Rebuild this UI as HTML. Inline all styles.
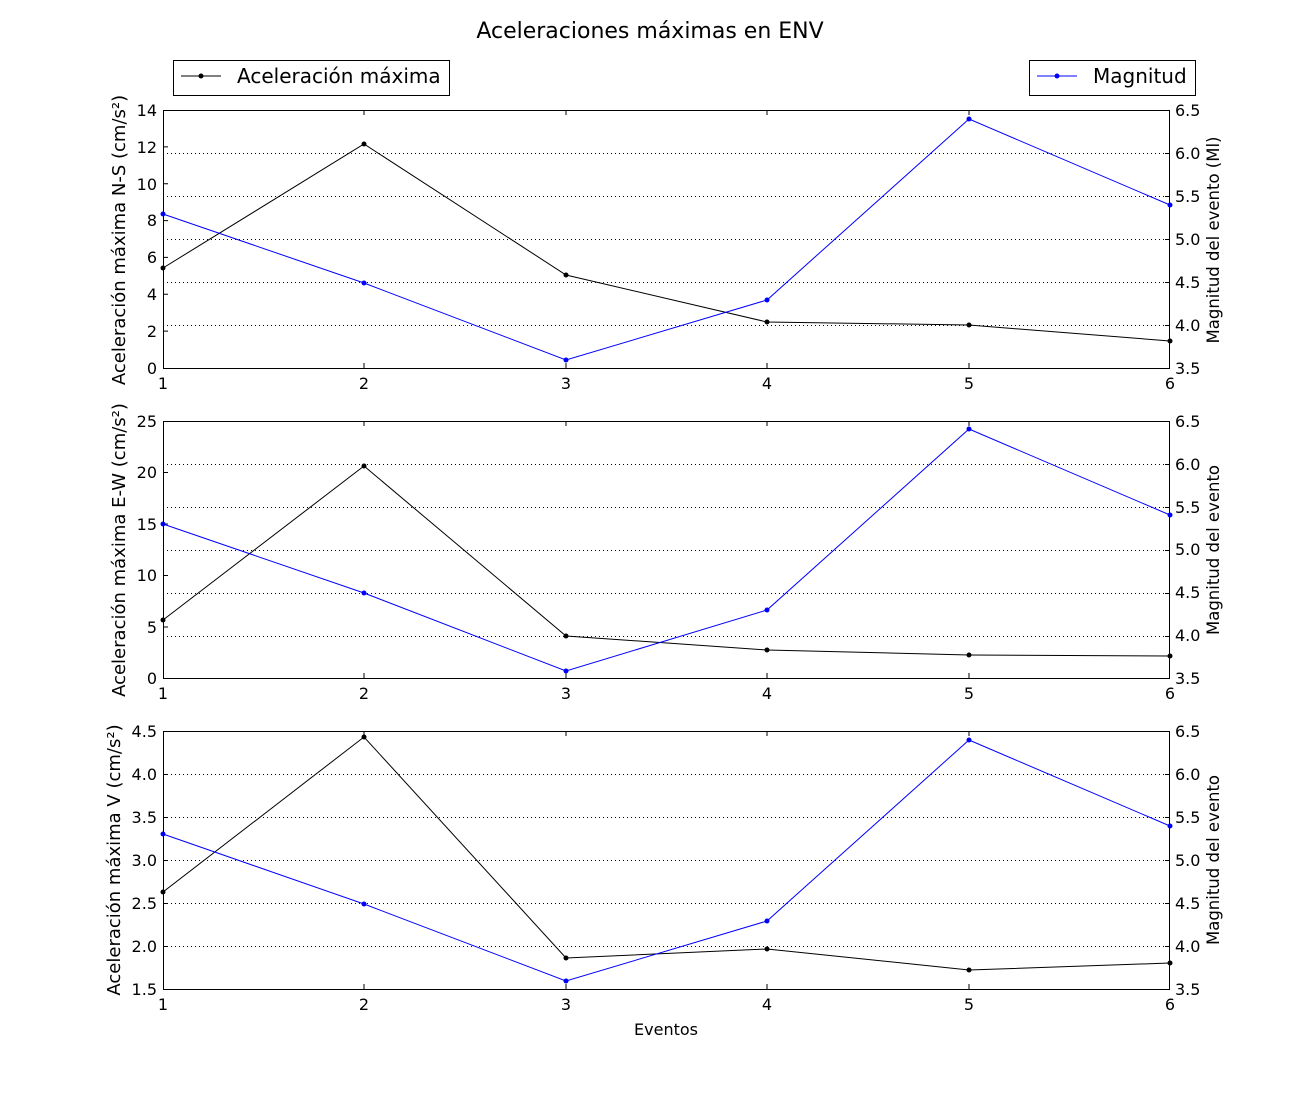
<!DOCTYPE html>
<html><head><meta charset="utf-8"><style>
body{margin:0;background:#fff}
svg{font-family:"DejaVu Sans","Liberation Sans",sans-serif;}
</style></head><body>
<svg width="1300" height="1100" xmlns="http://www.w3.org/2000/svg">
<rect width="1300" height="1100" fill="#fff"/>
<text x="650" y="38" font-size="22" text-anchor="middle">Aceleraciones máximas en ENV</text>
<rect x="173.5" y="60.5" width="276" height="35" fill="#fff" stroke="#000"/>
<line x1="181" y1="76" x2="221" y2="76" stroke="#000"/><circle cx="201" cy="76" r="2.5"/>
<text x="237" y="83" font-size="20">Aceleración máxima</text>
<rect x="1029.5" y="60.5" width="166" height="35" fill="#fff" stroke="#000"/>
<line x1="1037" y1="76" x2="1077" y2="76" stroke="#00f"/><circle cx="1057" cy="76" r="2.5" fill="#00f"/>
<text x="1093" y="83" font-size="20">Magnitud</text>

<!-- Panel 1 -->
<g stroke="#000" stroke-dasharray="1,3">
<line x1="163" x2="1170" y1="325.5" y2="325.5"/><line x1="163" x2="1170" y1="282.5" y2="282.5"/><line x1="163" x2="1170" y1="239.5" y2="239.5"/><line x1="163" x2="1170" y1="196.5" y2="196.5"/><line x1="163" x2="1170" y1="153.5" y2="153.5"/>
</g>
<g stroke="#000">
<path d="M163 331.1h5M163 294.3h5M163 257.4h5M163 220.6h5M163 183.7h5M163 146.9h5M1170 325.5h-5M1170 282.5h-5M1170 239.5h-5M1170 196.5h-5M1170 153.5h-5M364 368v-5M566 368v-5M767 368v-5M969 368v-5M364 110v5M566 110v5M767 110v5M969 110v5"/>
</g>
<polyline fill="none" stroke="#000" points="163,268 364,144 566,275 767,322 969,325 1170,341"/>
<g fill="#000"><circle cx="163" cy="268" r="2.5"/><circle cx="364" cy="144" r="2.5"/><circle cx="566" cy="275" r="2.5"/><circle cx="767" cy="322" r="2.5"/><circle cx="969" cy="325" r="2.5"/><circle cx="1170" cy="341" r="2.5"/></g>
<polyline fill="none" stroke="#00f" points="163,214 364,283 566,360 767,300 969,119 1170,205"/>
<g fill="#00f"><circle cx="163" cy="214" r="2.5"/><circle cx="364" cy="283" r="2.5"/><circle cx="566" cy="360" r="2.5"/><circle cx="767" cy="300" r="2.5"/><circle cx="969" cy="119" r="2.5"/><circle cx="1170" cy="205" r="2.5"/></g>
<rect x="163.5" y="110.5" width="1006" height="258" fill="none" stroke="#000"/>
<g font-size="16" text-anchor="end">
<text x="157" y="374">0</text><text x="157" y="337">2</text><text x="157" y="300">4</text><text x="157" y="263">6</text><text x="157" y="226">8</text><text x="157" y="190">10</text><text x="157" y="153">12</text><text x="157" y="116">14</text>
</g>
<g font-size="16">
<text x="1175" y="374">3.5</text><text x="1175" y="331">4.0</text><text x="1175" y="288">4.5</text><text x="1175" y="245">5.0</text><text x="1175" y="202">5.5</text><text x="1175" y="159">6.0</text><text x="1175" y="116">6.5</text>
</g>
<g font-size="16" text-anchor="middle">
<text x="163" y="389">1</text><text x="364" y="389">2</text><text x="566" y="389">3</text><text x="767" y="389">4</text><text x="969" y="389">5</text><text x="1170" y="389">6</text>
</g>
<text transform="translate(125,240) rotate(-90)" font-size="18" text-anchor="middle">Aceleración máxima N-S (cm/s²)</text>
<text transform="translate(1219,240) rotate(-90)" font-size="16.5" text-anchor="middle">Magnitud del evento (Ml)</text>

<!-- Panel 2 -->
<g stroke="#000" stroke-dasharray="1,3">
<line x1="163" x2="1170" y1="636.5" y2="636.5"/><line x1="163" x2="1170" y1="593.5" y2="593.5"/><line x1="163" x2="1170" y1="550.5" y2="550.5"/><line x1="163" x2="1170" y1="507.5" y2="507.5"/><line x1="163" x2="1170" y1="464.5" y2="464.5"/>
</g>
<g stroke="#000">
<path d="M163 627h5M163 575.5h5M163 524h5M163 472.5h5M1170 636.5h-5M1170 593.5h-5M1170 550.5h-5M1170 507.5h-5M1170 464.5h-5M364 678v-5M566 678v-5M767 678v-5M969 678v-5M364 421v5M566 421v5M767 421v5M969 421v5"/>
</g>
<polyline fill="none" stroke="#000" points="163,620 364,466 566,636 767,650 969,655 1170,656"/>
<g><circle cx="163" cy="620" r="2.5"/><circle cx="364" cy="466" r="2.5"/><circle cx="566" cy="636" r="2.5"/><circle cx="767" cy="650" r="2.5"/><circle cx="969" cy="655" r="2.5"/><circle cx="1170" cy="656" r="2.5"/></g>
<polyline fill="none" stroke="#00f" points="163,524 364,593 566,671 767,610 969,429 1170,515"/>
<g fill="#00f"><circle cx="163" cy="524" r="2.5"/><circle cx="364" cy="593" r="2.5"/><circle cx="566" cy="671" r="2.5"/><circle cx="767" cy="610" r="2.5"/><circle cx="969" cy="429" r="2.5"/><circle cx="1170" cy="515" r="2.5"/></g>
<rect x="163.5" y="421.5" width="1006" height="257" fill="none" stroke="#000"/>
<g font-size="16" text-anchor="end">
<text x="157" y="684">0</text><text x="157" y="633">5</text><text x="157" y="581">10</text><text x="157" y="530">15</text><text x="157" y="478">20</text><text x="157" y="427">25</text>
</g>
<g font-size="16">
<text x="1175" y="684">3.5</text><text x="1175" y="641">4.0</text><text x="1175" y="598">4.5</text><text x="1175" y="555">5.0</text><text x="1175" y="513">5.5</text><text x="1175" y="470">6.0</text><text x="1175" y="427">6.5</text>
</g>
<g font-size="16" text-anchor="middle">
<text x="163" y="699">1</text><text x="364" y="699">2</text><text x="566" y="699">3</text><text x="767" y="699">4</text><text x="969" y="699">5</text><text x="1170" y="699">6</text>
</g>
<text transform="translate(125,550) rotate(-90)" font-size="18" text-anchor="middle">Aceleración máxima E-W (cm/s²)</text>
<text transform="translate(1219,550) rotate(-90)" font-size="16.5" text-anchor="middle">Magnitud del evento</text>

<!-- Panel 3 -->
<g stroke="#000" stroke-dasharray="1,3">
<line x1="163" x2="1170" y1="946.5" y2="946.5"/><line x1="163" x2="1170" y1="903.5" y2="903.5"/><line x1="163" x2="1170" y1="860.5" y2="860.5"/><line x1="163" x2="1170" y1="817.5" y2="817.5"/><line x1="163" x2="1170" y1="774.5" y2="774.5"/>
</g>
<g stroke="#000">
<path d="M163 946.5h5M163 903.5h5M163 860.5h5M163 817.5h5M163 774.5h5M1170 946.5h-5M1170 903.5h-5M1170 860.5h-5M1170 817.5h-5M1170 774.5h-5M364 989v-5M566 989v-5M767 989v-5M969 989v-5M364 731v5M566 731v5M767 731v5M969 731v5"/>
</g>
<polyline fill="none" stroke="#000" points="163,892 364,737 566,958 767,949 969,970 1170,963"/>
<g><circle cx="163" cy="892" r="2.5"/><circle cx="364" cy="737" r="2.5"/><circle cx="566" cy="958" r="2.5"/><circle cx="767" cy="949" r="2.5"/><circle cx="969" cy="970" r="2.5"/><circle cx="1170" cy="963" r="2.5"/></g>
<polyline fill="none" stroke="#00f" points="163,834 364,904 566,981 767,921 969,740 1170,826"/>
<g fill="#00f"><circle cx="163" cy="834" r="2.5"/><circle cx="364" cy="904" r="2.5"/><circle cx="566" cy="981" r="2.5"/><circle cx="767" cy="921" r="2.5"/><circle cx="969" cy="740" r="2.5"/><circle cx="1170" cy="826" r="2.5"/></g>
<rect x="163.5" y="731.5" width="1006" height="258" fill="none" stroke="#000"/>
<g font-size="16" text-anchor="end">
<text x="157" y="995">1.5</text><text x="157" y="952">2.0</text><text x="157" y="909">2.5</text><text x="157" y="866">3.0</text><text x="157" y="823">3.5</text><text x="157" y="780">4.0</text><text x="157" y="737">4.5</text>
</g>
<g font-size="16">
<text x="1175" y="995">3.5</text><text x="1175" y="952">4.0</text><text x="1175" y="909">4.5</text><text x="1175" y="866">5.0</text><text x="1175" y="823">5.5</text><text x="1175" y="780">6.0</text><text x="1175" y="737">6.5</text>
</g>
<g font-size="16" text-anchor="middle">
<text x="163" y="1010">1</text><text x="364" y="1010">2</text><text x="566" y="1010">3</text><text x="767" y="1010">4</text><text x="969" y="1010">5</text><text x="1170" y="1010">6</text>
</g>
<text x="666" y="1035" font-size="16" text-anchor="middle">Eventos</text>
<text transform="translate(120,860) rotate(-90)" font-size="18" text-anchor="middle">Aceleración máxima V (cm/s²)</text>
<text transform="translate(1219,860) rotate(-90)" font-size="16.5" text-anchor="middle">Magnitud del evento</text>
</svg>
</body></html>
